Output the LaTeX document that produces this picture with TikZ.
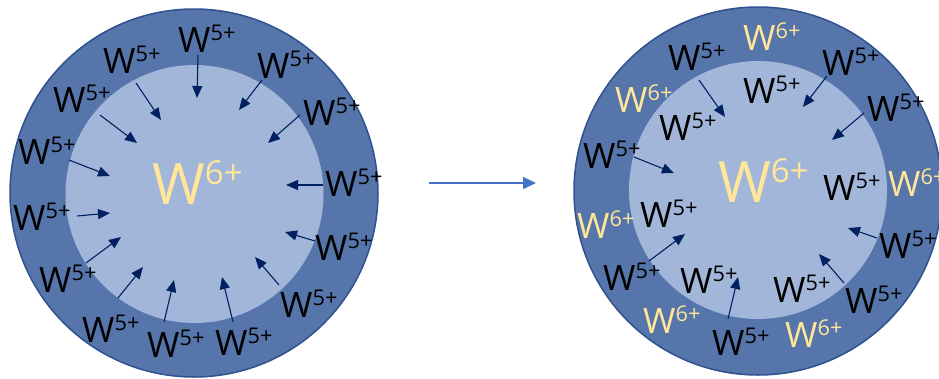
\documentclass[tikz,border=0pt]{standalone}
\usepackage{fontspec}
\setmainfont{Open Sans}
\usepackage{graphicx}
\usetikzlibrary{arrows.meta}
\definecolor{ringblue}{RGB}{86,117,170}
\definecolor{ringline}{RGB}{47,82,143}
\definecolor{coreblue}{RGB}{162,182,218}
\definecolor{ionyellow}{RGB}{255,230,153}
\definecolor{arrnavy}{RGB}{0,32,96}
\definecolor{midblue}{RGB}{68,114,196}
\tikzset{
  ring/.style    = {circle, draw=ringline, line width=1.5pt, fill=ringblue,
                    minimum size=368pt, inner sep=0pt, outer sep=0pt},
  core/.style    = {circle, fill=coreblue, minimum size=258pt, inner sep=0pt},
  ion/.style     = {anchor=base west, inner sep=0pt, font=\fontsize{35}{35}\selectfont},
  ionsix/.style  = {ion, text=ionyellow},
  bigion/.style  = {ionsix, font=\fontsize{57}{57}\selectfont},
  arr/.style     = {-{Triangle[length=12pt,width=10pt]}, line width=1.1pt, draw=arrnavy},
  midarr/.style  = {-{Triangle[length=13pt,width=12pt]}, line width=1.5pt, draw=midblue},
}
\newcommand{\ionW}[2][.62]{W\raisebox{.34em}{\scalebox{#1}{#2}}}

\begin{document}
\begin{tikzpicture}[x=1pt, y=-1pt]
\clip (0,0) rectangle (939,378);

% left particle: W6+ core, W5+ shell
\node[ring] (outerL) at (194,193) {};
\node[core] (coreL) at (194.5,194) {};

\foreach \i/\sx/\sy/\tx/\ty in {1/198/55/197/98, 2/136/83/161/120, 3/262/80/239/110,
    4/100/115/137/143, 5/300/115/268/143, 6/69/160/110/176, 7/323/185/286/185,
    8/77/216/110/213, 9/315/241/285/232, 10/86/263/121/237, 11/279/285/255/257,
    12/118/298/143/267, 13/164/322/174/280, 14/233/322/222/277}{
  \coordinate (ls\i) at (\sx,\sy);
  \coordinate (lt\i) at (\tx,\ty);
  \draw[arr] (ls\i) -- (lt\i);
}

\node[bigion] (cenL) at (152,204) {\ionW[.58]{6+}};
\node[ion] (l1) at (178,52) {\ionW{5+}};
\node[ion] (l2) at (103,73) {\ionW{5+}};
\node[ion] (l3) at (257,78) {\ionW{5+}};
\node[ion] (l4) at (53,112) {\ionW{5+}};
\node[ion] (l5) at (303,125) {\ionW{5+}};
\node[ion] (l6) at (18,164) {\ionW{5+}};
\node[ion] (l7) at (325,196) {\ionW{5+}};
\node[ion] (l8) at (13,230) {\ionW{5+}};
\node[ion] (l9) at (315,260) {\ionW{5+}};
\node[ion] (l10) at (39,292) {\ionW{5+}};
\node[ion] (l11) at (280,317) {\ionW{5+}};
\node[ion] (l12) at (82,342) {\ionW{5+}};
\node[ion] (l13) at (147,357) {\ionW{5+}};
\node[ion] (l14) at (215,355) {\ionW{5+}};

% right particle: mixed shell
\node[ring] (outerR) at (758,191) {};
\node[core] (coreR) at (758,190) {};

\foreach \i/\sx/\sy/\tx/\ty in {1/699/80/725/117, 2/827/76/803/107, 3/864/113/832/140,
    4/634/157/674/173, 5/649/261/685/234, 6/877/238/848/228, 7/728/319/738/277,
    8/844/283/819/254}{
  \coordinate (rs\i) at (\sx,\sy);
  \coordinate (rt\i) at (\tx,\ty);
  \draw[arr] (rs\i) -- (rt\i);
}

\node[bigion] (cenR) at (718,202) {\ionW[.58]{6+}};
\node[ionsix] (r1) at (743,50) {\ionW{6+}};
\node[ion] (r2) at (668,70) {\ionW{5+}};
\node[ion] (r3) at (822,75) {\ionW{5+}};
\node[ion] (r4) at (743,103) {\ionW{5+}};
\node[ionsix] (r5) at (615,112) {\ionW{6+}};
\node[ion] (r6) at (867,121) {\ionW{5+}};
\node[ion] (r7) at (659,140) {\ionW{5+}};
\node[ion] (r8) at (583,168) {\ionW{5+}};
\node[ion] (r9) at (823,200) {\ionW{5+}};
\node[ionsix] (r10) at (888,196) {\ionW{6+}};
\node[ion] (r11) at (640,227) {\ionW{5+}};
\node[ionsix] (r12) at (577,238) {\ionW{6+}};
\node[ion] (r13) at (879,258) {\ionW{5+}};
\node[ion] (r14) at (603,290) {\ionW{5+}};
\node[ion] (r15) at (680,293) {\ionW{5+}};
\node[ion] (r16) at (773,302) {\ionW{5+}};
\node[ion] (r17) at (845,313) {\ionW{5+}};
\node[ionsix] (r18) at (643,333) {\ionW{6+}};
\node[ion] (r19) at (712,355) {\ionW{5+}};
\node[ionsix] (r20) at (785,347) {\ionW{6+}};

% oxidation step
\draw[midarr] ([xshift=51pt, yshift=10pt]outerL.east) -- ([xshift=-38pt, yshift=8pt]outerR.west);

\end{tikzpicture}
\end{document}
